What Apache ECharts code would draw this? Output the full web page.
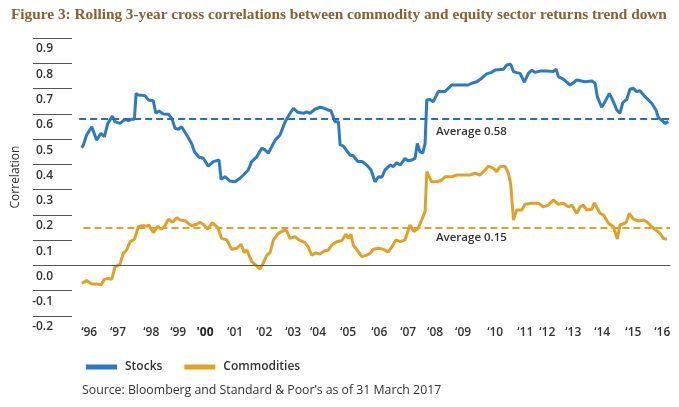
<!DOCTYPE html>
<html>
<head>
<meta charset="utf-8">
<script src="https://cdn.jsdelivr.net/npm/echarts@6/dist/echarts.min.js"></script>
<style>
html,body{margin:0;padding:0;background:#fff;}
#mainChart{width:679px;height:407px;}
</style>
</head>
<body>
<div id="mainChart"></div>
<script>
// x in years
var stockYears = [1995.74,1995.80,1995.91,1996.09,1996.26,1996.41,1996.53,1996.65,1996.81,1996.90,1997.08,1997.25,1997.37,1997.49,1997.58,1997.64,1997.72,1997.95,1998.07,1998.24,1998.33,1998.44,1998.59,1998.77,1998.89,1999.00,1999.12,1999.23,1999.41,1999.58,1999.68,1999.84,1999.99,2000.16,2000.34,2000.54,2000.61,2000.75,2000.92,2001.10,2001.27,2001.39,2001.56,2001.68,2001.86,2002.03,2002.15,2002.26,2002.50,2002.67,2002.85,2003.02,2003.14,2003.29,2003.49,2003.60,2003.72,2003.89,2004.07,2004.22,2004.36,2004.45,2004.59,2004.71,2004.77,2004.88,2005.00,2005.12,2005.23,2005.39,2005.55,2005.70,2005.85,2005.99,2006.11,2006.23,2006.34,2006.52,2006.63,2006.75,2006.87,2007.04,2007.15,2007.27,2007.39,2007.47,2007.56,2007.66,2007.74,2007.80,2007.91,2008.03,2008.20,2008.44,2008.55,2008.67,2008.85,2009.14,2009.25,2009.37,2009.55,2009.72,2009.89,2010.07,2010.19,2010.48,2010.59,2010.73,2010.83,2010.94,2011.06,2011.21,2011.35,2011.47,2011.58,2011.76,2011.99,2012.22,2012.32,2012.40,2012.57,2012.81,2012.92,2013.04,2013.33,2013.57,2013.68,2013.76,2013.91,2014.03,2014.18,2014.32,2014.44,2014.55,2014.65,2014.79,2014.90,2015.02,2015.14,2015.25,2015.43,2015.66,2015.81,2015.89,2016.13,2016.24];
var stockValues = [0.466,0.477,0.516,0.549,0.496,0.523,0.509,0.562,0.591,0.569,0.562,0.578,0.573,0.579,0.578,0.681,0.674,0.672,0.655,0.652,0.602,0.611,0.599,0.598,0.582,0.543,0.539,0.549,0.516,0.483,0.450,0.428,0.424,0.393,0.411,0.417,0.341,0.351,0.334,0.331,0.345,0.358,0.378,0.411,0.430,0.464,0.457,0.444,0.496,0.516,0.569,0.602,0.622,0.606,0.602,0.608,0.602,0.618,0.626,0.622,0.615,0.612,0.569,0.569,0.477,0.473,0.454,0.437,0.434,0.411,0.411,0.397,0.378,0.331,0.351,0.349,0.378,0.397,0.391,0.407,0.397,0.424,0.414,0.417,0.424,0.483,0.450,0.444,0.483,0.655,0.657,0.648,0.688,0.688,0.701,0.714,0.714,0.714,0.714,0.721,0.727,0.741,0.758,0.764,0.773,0.776,0.793,0.796,0.767,0.763,0.760,0.725,0.760,0.773,0.764,0.769,0.769,0.767,0.777,0.747,0.737,0.714,0.723,0.734,0.727,0.730,0.721,0.668,0.626,0.648,0.681,0.648,0.615,0.602,0.644,0.657,0.697,0.701,0.688,0.691,0.668,0.642,0.615,0.586,0.562,0.569];

var commodityYears = [1995.74,1995.91,1996.09,1996.26,1996.41,1996.53,1996.67,1996.79,1996.90,1997.08,1997.19,1997.31,1997.43,1997.58,1997.72,1997.84,1998.01,1998.09,1998.24,1998.40,1998.51,1998.63,1998.77,1998.91,1999.06,1999.18,1999.35,1999.58,1999.76,1999.87,1999.99,2000.14,2000.30,2000.49,2000.63,2000.81,2000.98,2001.16,2001.31,2001.42,2001.51,2001.68,2001.86,2001.97,2002.09,2002.21,2002.32,2002.44,2002.61,2002.82,2002.90,2003.02,2003.19,2003.33,2003.54,2003.66,2003.78,2003.92,2004.07,2004.22,2004.36,2004.48,2004.65,2004.83,2004.97,2005.06,2005.15,2005.23,2005.41,2005.53,2005.70,2005.82,2005.93,2006.11,2006.28,2006.46,2006.57,2006.72,2006.87,2007.04,2007.21,2007.35,2007.50,2007.62,2007.74,2007.80,2007.97,2008.15,2008.32,2008.44,2008.67,2008.85,2009.08,2009.31,2009.49,2009.66,2009.84,2009.95,2010.13,2010.24,2010.36,2010.53,2010.65,2010.73,2010.83,2010.94,2011.12,2011.23,2011.47,2011.70,2011.87,2012.05,2012.22,2012.40,2012.57,2012.75,2012.87,2013.04,2013.16,2013.27,2013.39,2013.57,2013.65,2013.86,2013.97,2014.15,2014.32,2014.46,2014.55,2014.76,2014.88,2015.02,2015.19,2015.37,2015.49,2015.66,2015.81,2015.95,2016.07,2016.19];
var commodityValues = [-0.071,-0.060,-0.073,-0.073,-0.077,-0.055,-0.051,-0.055,-0.007,0.006,0.048,0.061,0.094,0.103,0.153,0.157,0.156,0.160,0.130,0.156,0.143,0.153,0.183,0.171,0.189,0.180,0.177,0.157,0.163,0.171,0.163,0.143,0.169,0.151,0.107,0.101,0.064,0.068,0.084,0.050,0.061,0.015,-0.002,-0.014,0.011,0.041,0.050,0.101,0.127,0.140,0.137,0.107,0.114,0.101,0.090,0.072,0.041,0.050,0.045,0.057,0.061,0.081,0.094,0.098,0.123,0.107,0.123,0.081,0.054,0.035,0.041,0.048,0.064,0.068,0.064,0.054,0.072,0.101,0.094,0.101,0.160,0.134,0.147,0.180,0.213,0.371,0.331,0.331,0.338,0.351,0.351,0.358,0.358,0.358,0.365,0.358,0.378,0.393,0.384,0.371,0.391,0.393,0.365,0.325,0.180,0.219,0.219,0.242,0.246,0.246,0.232,0.239,0.259,0.242,0.246,0.232,0.239,0.206,0.232,0.239,0.219,0.222,0.248,0.206,0.200,0.167,0.153,0.105,0.160,0.169,0.206,0.183,0.176,0.180,0.173,0.153,0.140,0.127,0.107,0.104];

var stockAverage = 0.58;
var commodityAverage = 0.15;

var tickYears = [1996.00,1997.01,1998.17,1999.11,2000.05,2001.10,2002.12,2003.13,2004.00,2005.05,2006.14,2007.15,2008.09,2009.07,2010.19,2011.24,2012.01,2012.92,2013.93,2015.02,2016.03];
var tickLabels = ["‘96","‘97","‘98","‘99","'00","‘01","‘02","‘03","‘04","‘05","‘06","‘07","‘08","‘09","‘10","‘11","‘12","‘13","‘14","‘15","‘16"];

function pairUp(xs, ys)
{
	var out = [];
	for (var i = 0; i < xs.length; i++) {
		out.push([xs[i], ys[i]]);
	}
	return out;
}

var blue = '#2a7ac6';
var gold = '#e2a126';
var sans = '"Open Sans", "Noto Sans", sans-serif';

var myChart = echarts.init(document.getElementById('mainChart'));
var option = {
	animation: false,
	title: {
		text: 'Figure 3: Rolling 3-year cross correlations between commodity and equity sector returns trend down',
		left: 6,
		top: 3,
		textStyle: {
			fontFamily: '"Liberation Serif", "DejaVu Serif", serif',
			fontWeight: 'bold',
			fontSize: 15.3,
			color: '#8a6030'
		}
	},
	legend: {
		left: 81,
		top: 356,
		itemWidth: 31,
		itemHeight: 5,
		itemGap: 22,
		icon: 'rect',
		textStyle: {
			fontFamily: sans,
			fontWeight: 600,
			fontSize: 12,
			color: '#333',
			padding: [0, 0, 0, 3]
		},
		data: ['Stocks', 'Commodities']
	},
	graphic: [
		{
			type: 'text',
			left: 82,
			top: 384,
			style: {
				text: 'Source: Bloomberg and Standard & Poor’s as of 31 March 2017',
				font: '12.3px "Open Sans", "Noto Sans", sans-serif',
				fill: '#333'
			}
		},
		{
			type: 'text',
			left: 436,
			top: 126,
			style: {
				text: 'Average ' + stockAverage.toFixed(2),
				font: '600 11.5px "Open Sans", "Noto Sans", sans-serif',
				fill: '#333'
			}
		},
		{
			type: 'text',
			left: 436,
			top: 232,
			style: {
				text: 'Average ' + commodityAverage.toFixed(2),
				font: '600 11.5px "Open Sans", "Noto Sans", sans-serif',
				fill: '#333'
			}
		}
	],
	grid: {
		left: 72,
		right: 9,
		top: 38,
		bottom: 91
	},
	xAxis: {
		type: 'value',
		min: 1995.4,
		max: 2016.3,
		axisLine: { show: true, lineStyle: { color: '#555', width: 1.2 } },
		axisTick: { show: false },
		splitLine: { show: false },
		axisLabel: {
			customValues: tickYears,
			margin: 11,
			fontFamily: sans,
			fontWeight: 600,
			fontSize: 12,
			color: '#333',
			formatter: function (v) {
				for (var i = 0; i < tickYears.length; i++) {
					if (Math.abs(tickYears[i] - v) < 0.001) {
						return tickLabels[i] === "'00" ? '{b|' + tickLabels[i] + '}' : tickLabels[i];
					}
				}
				return '';
			},
			rich: {
				b: { fontFamily: sans, fontWeight: 'bold', fontSize: 12, color: '#222' }
			}
		}
	},
	yAxis: {
		type: 'value',
		min: -0.2,
		max: 0.9,
		interval: 0.1,
		name: 'Correlation',
		nameLocation: 'middle',
		nameGap: 48,
		nameTextStyle: {
			fontFamily: sans,
			fontSize: 12,
			color: '#333'
		},
		axisLine: { show: false },
		axisTick: {
			show: true,
			inside: false,
			length: 39,
			lineStyle: { color: '#555', width: 1 }
		},
		splitLine: { show: false },
		axisLabel: {
			margin: 19,
			verticalAlign: 'top',
			padding: [5, 0, 0, 0],
			fontFamily: sans,
			fontWeight: 600,
			fontSize: 12,
			color: '#333',
			formatter: function (v) { return v.toFixed(1); }
		}
	},
	series: [
		{
			name: 'Stocks',
			type: 'line',
			color: blue,
			showSymbol: false,
			lineStyle: { width: 3, color: blue },
			data: pairUp(stockYears, stockValues),
			markLine: {
				silent: true,
				symbol: 'none',
				label: { show: false },
				data: [
					[{ coord: [1995.65, stockAverage], lineStyle: { color: '#1f6fc2', width: 2, type: [7, 4] } },
					 { coord: [2016.3, stockAverage] }]
				]
			}
		},
		{
			name: 'Commodities',
			type: 'line',
			color: gold,
			showSymbol: false,
			lineStyle: { width: 3, color: gold },
			data: pairUp(commodityYears, commodityValues),
			markLine: {
				silent: true,
				symbol: 'none',
				label: { show: false },
				data: [
					[{ coord: [1995.8, commodityAverage], lineStyle: { color: gold, width: 2, type: [7, 4] } },
					 { coord: [2016.3, commodityAverage] }],
					{ yAxis: 0, lineStyle: { color: '#555', width: 1.2, type: 'solid' } }
				]
			}
		}
	]
};
myChart.setOption(option);
window.onresize = myChart.resize;
</script>
</body>
</html>
